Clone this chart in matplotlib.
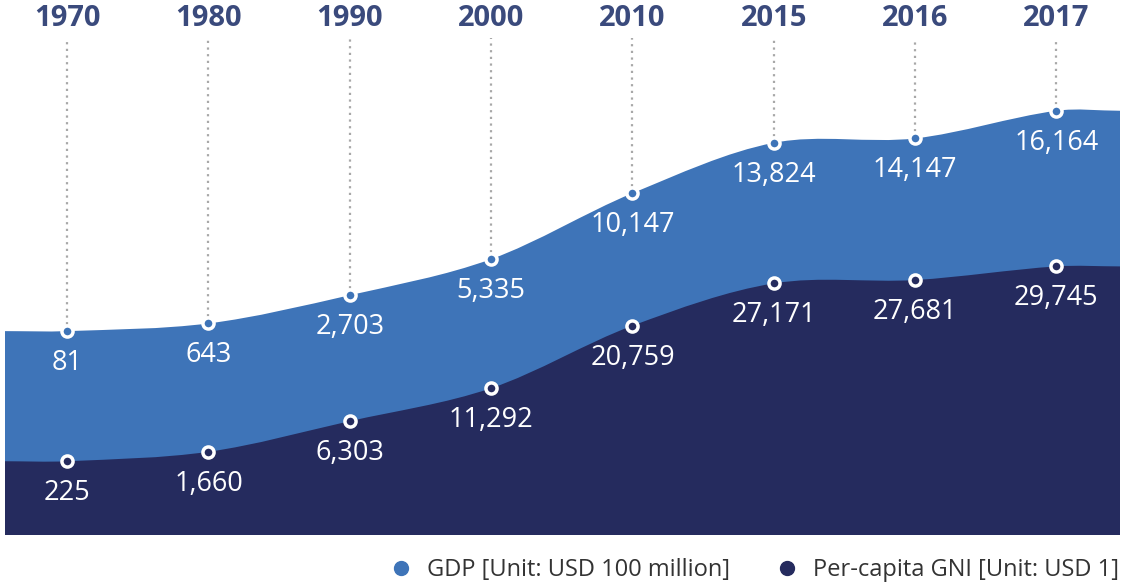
import matplotlib.pyplot as plt
import numpy as np
from matplotlib.path import Path
from matplotlib.patches import PathPatch
from matplotlib.lines import Line2D

# Data
years = ['1970', '1980', '1990', '2000', '2010', '2015', '2016', '2017']
gdp = [81, 643, 2703, 5335, 10147, 13824, 14147, 16164]          # USD 100 million
gni = [225, 1660, 6303, 11292, 20759, 27171, 27681, 29745]       # USD 1

light = '#3e74b8'
dark = '#252b5e'
year_color = '#3a4a7c'

plt.rcParams['font.family'] = ['Open Sans', 'DejaVu Sans']


def smooth_area(xs, ys, bottom):
    # cubic bezier through the points, flat at both ends, closed to the bottom
    xs = np.asarray(xs, float)
    ys = np.asarray(ys, float)
    n = len(xs)
    m = np.zeros(n)
    for i in range(1, n - 1):
        m[i] = (ys[i + 1] - ys[i - 1]) / (xs[i + 1] - xs[i - 1])
    verts = [(xs[0], bottom), (xs[0], ys[0])]
    codes = [Path.MOVETO, Path.LINETO]
    for i in range(n - 1):
        dx = (xs[i + 1] - xs[i]) / 3
        verts += [(xs[i] + dx, ys[i] + m[i] * dx),
                  (xs[i + 1] - dx, ys[i + 1] - m[i + 1] * dx),
                  (xs[i + 1], ys[i + 1])]
        codes += [Path.CURVE4] * 3
    verts += [(xs[-1], bottom), (xs[0], bottom)]
    codes += [Path.LINETO, Path.CLOSEPOLY]
    return Path(verts, codes)


W, H = 1125, 585
fig = plt.figure(figsize=(W / 100, H / 100), dpi=100)
ax = fig.add_axes([5 / W, 50 / H, 1115 / W, 497 / H])
ax2 = ax.twinx()

x = np.arange(len(years))
xlo, xhi = -0.44, 7.45
ax.set_xlim(xlo, xhi)
ax.set_ylim(-14800, 21475)
ax2.set_ylim(-10950, 64350)

# extended ends so the areas run to the edges
xe = np.concatenate([[xlo], x, [xhi]])
gdp_e = np.concatenate([[gdp[0]], gdp, [gdp[-1]]])
gni_e = np.concatenate([[gni[0]], gni, [gni[-1]]])

ax.add_patch(PathPatch(smooth_area(xe, gdp_e, -14800), facecolor=light,
                       edgecolor='none', zorder=1))
ax2.add_patch(PathPatch(smooth_area(xe, gni_e, -10950), facecolor=dark,
                        edgecolor='none', zorder=1))

# dotted drop lines from the year labels
ax.vlines(x, gdp, 21475, colors='#a8a8a8', linestyles=(0, (1, 2)), lw=1.6, zorder=2)

ax.plot(x, gdp, 'o', ms=8, mfc=light, mec='white', mew=2.5, zorder=5)
ax2.plot(x, gni, 'o', ms=8, mfc=dark, mec='white', mew=2.5, zorder=5)

for xi, v in zip(x, gdp):
    ax.annotate(f'{v:,}', (xi, v), xytext=(0, -23), textcoords='offset points',
                ha='center', va='center', color='white', fontsize=19.5, zorder=6)
for xi, v in zip(x, gni):
    ax2.annotate(f'{v:,}', (xi, v), xytext=(0, -23), textcoords='offset points',
                 ha='center', va='center', color='white', fontsize=19.5, zorder=6)

for xi, yr in zip(x, years):
    ax.text(xi, 1.04, yr, transform=ax.get_xaxis_transform(), ha='center',
            va='center', fontsize=21, fontweight='bold', color=year_color)

for a in (ax, ax2):
    a.axis('off')

handles = [Line2D([], [], marker='o', ls='', ms=10, color=light),
           Line2D([], [], marker='o', ls='', ms=10, color=dark)]
fig.legend(handles, ['GDP [Unit: USD 100 million]', 'Per-capita GNI [Unit: USD 1]'],
           loc='center right', bbox_to_anchor=(1140 / W, 15 / H), ncol=2,
           frameon=False, fontsize=17, handlelength=1.0, handletextpad=0.6,
           columnspacing=1.9, labelcolor='#333333')

fig.savefig('out.png', dpi=100)
